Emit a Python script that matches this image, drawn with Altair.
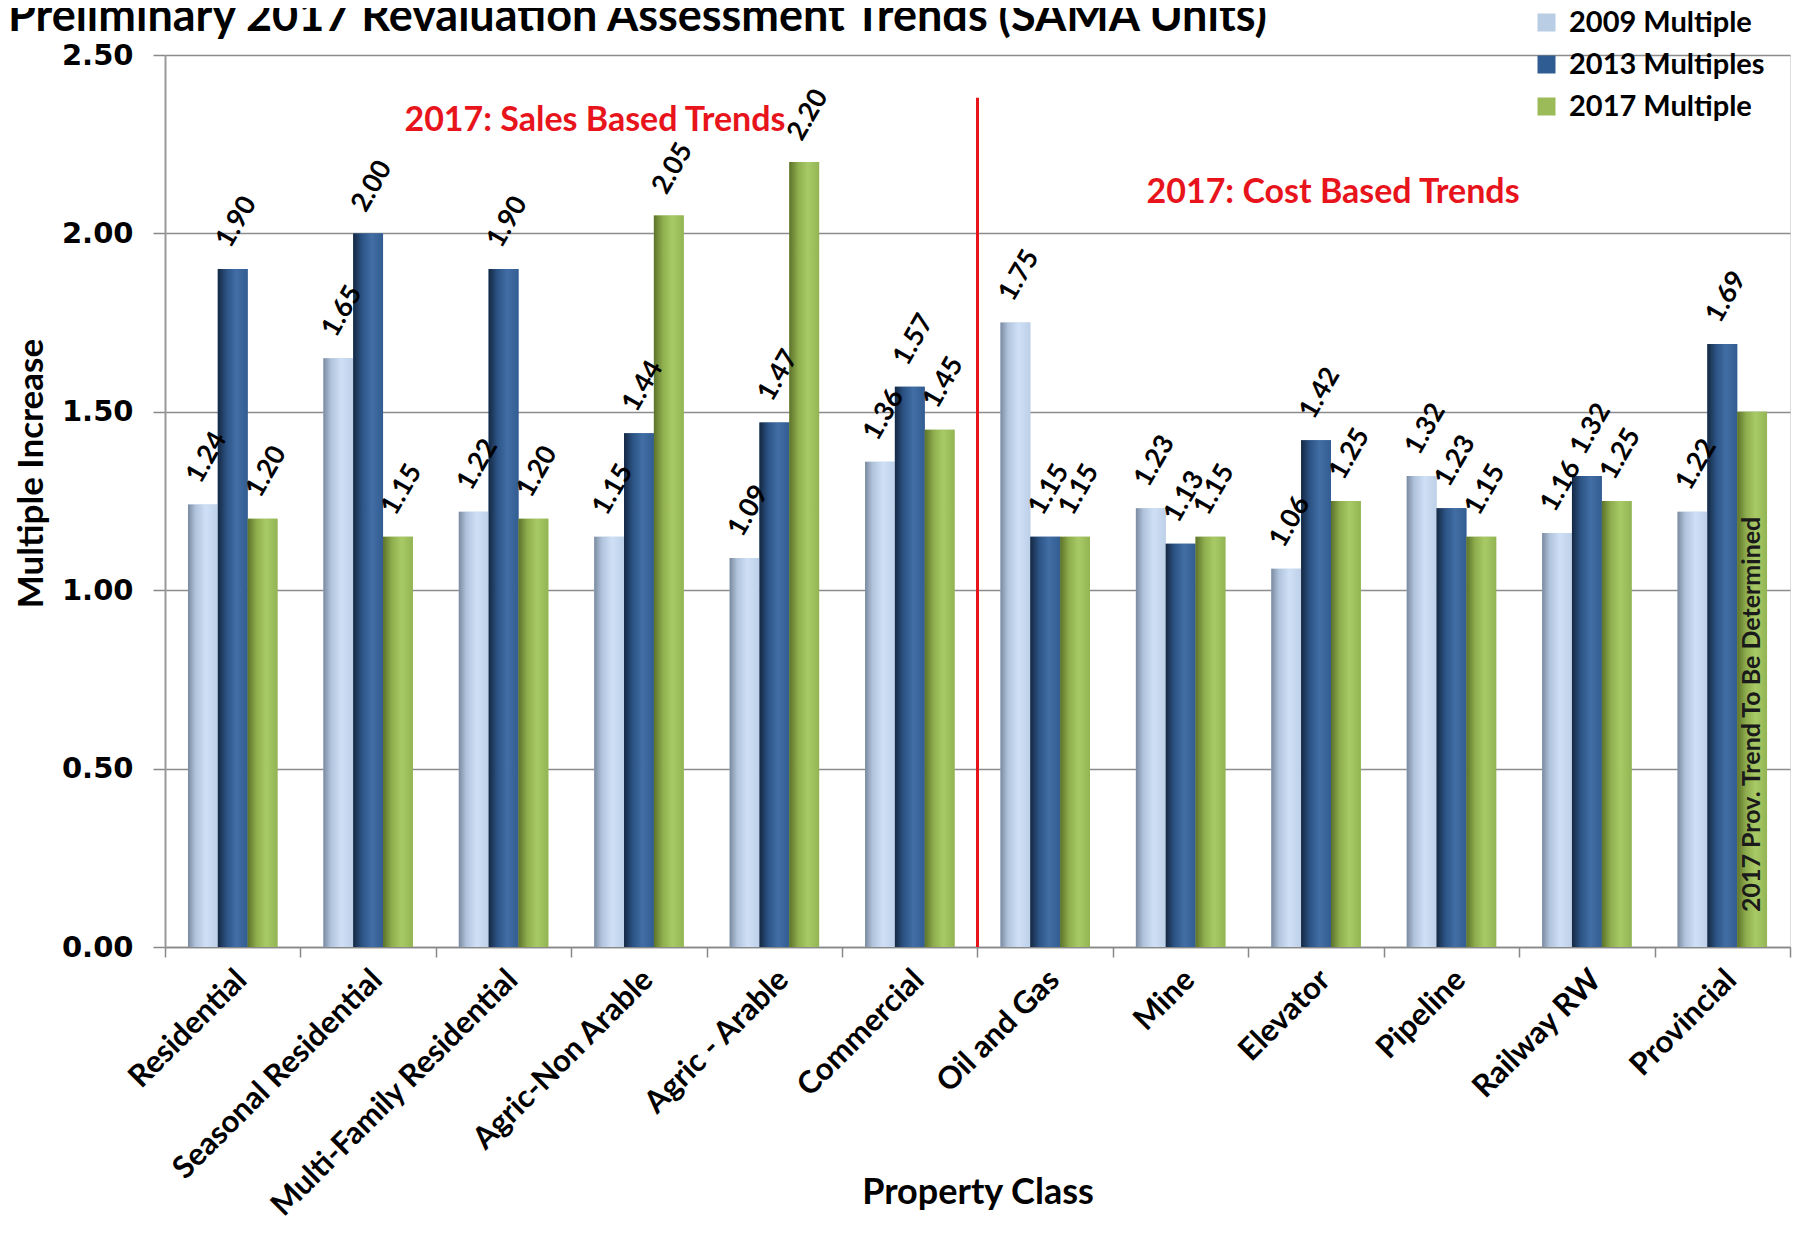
import altair as alt
import pandas as pd

categories = ["Residential", "Seasonal Residential", "Multi-Family Residential",
              "Agric-Non Arable", "Agric - Arable", "Commercial", "Oil and Gas",
              "Mine", "Elevator", "Pipeline", "Railway RW", "Provincial"]
series = ["2009 Multiple", "2013 Multiples", "2017 Multiple"]
v2009 = [1.24, 1.65, 1.22, 1.15, 1.09, 1.36, 1.75, 1.23, 1.06, 1.32, 1.16, 1.22]
v2013 = [1.90, 2.00, 1.90, 1.44, 1.47, 1.57, 1.15, 1.13, 1.42, 1.23, 1.32, 1.69]
v2017 = [1.20, 1.15, 1.20, 2.05, 2.20, 1.45, 1.15, 1.15, 1.25, 1.15, 1.25, 1.50]
show2017 = [True] * 11 + [False]
colors = ["#b9cde5", "#2f5d93", "#9bbb59"]
y_ticks = [0, 0.5, 1.0, 1.5, 2.0, 2.5]

prov_note = "2017 Prov. Trend To Be Determined"
sales_note = "2017: Sales Based Trends"
cost_note = "2017: Cost Based Trends"
divider_cat = "Oil and Gas"
divider_top = 2.38

rows = []
for i, c in enumerate(categories):
    for s, vals in zip(series, [v2009, v2013, v2017]):
        lab = f"{vals[i]:.2f}"
        if s == "2017 Multiple" and not show2017[i]:
            lab = ""
        rows.append(dict(category=c, series=s, value=vals[i], label=lab))
df = pd.DataFrame(rows)

grad_stops = {
    "2009 Multiple": [("#7a8a9f", 0), ("#b0c3dc", 0.25), ("#cfe0f6", 0.6), ("#bdd0e8", 1)],
    "2013 Multiples": [("#152842", 0), ("#2c5486", 0.3), ("#416ea5", 0.62), ("#335d92", 1)],
    "2017 Multiple": [("#5c722a", 0), ("#8fae4e", 0.3), ("#a8ca66", 0.62), ("#93b453", 1)],
}

LATO = "Lato"

x_axis = alt.Axis(labelAngle=-45, labelAlign="right", labelBaseline="middle",
                  labelFont=LATO, labelFontWeight="bold", labelFontSize=31,
                  labelColor="#000000", labelPadding=18, labelOffset=9, labelLimit=0,
                  tickBand="extent", tickSize=10, tickColor="#888888", tickWidth=1.5,
                  domainColor="#888888", domainWidth=1.5, grid=False,
                  titleFont=LATO, titleFontWeight="bold", titleFontSize=36,
                  titleColor="#000000", titleY=245, titleBaseline="middle")
y_axis = alt.Axis(values=y_ticks, format=".2f",
                  labelFont="DejaVu Sans", labelFontWeight="bold", labelFontSize=29,
                  labelColor="#000000", labelPadding=20,
                  tickSize=12, tickColor="#888888", tickWidth=1.5,
                  domainColor="#999999", domainWidth=2,
                  grid=True, gridColor="#8c8c8c", gridWidth=1.5,
                  titleFont=LATO, titleFontWeight="bold", titleFontSize=35,
                  titleColor="#000000", titleX=-134, titleY=418, titleBaseline="middle")

x_enc = alt.X("category:N", sort=categories, title="Property Class",
              scale=alt.Scale(domain=categories, paddingInner=0, paddingOuter=0),
              axis=x_axis)
xo_enc = alt.XOffset("series:N", sort=series,
                     scale=alt.Scale(domain=series, paddingInner=0, paddingOuter=0.77))
y_enc = alt.Y("value:Q", title="Multiple Increase",
              scale=alt.Scale(domain=[0, 2.5], nice=False, zero=True), axis=y_axis)

base = alt.Chart(df)

bars = base.mark_bar().encode(
    x=x_enc, xOffset=xo_enc, y=y_enc,
    color=alt.Color("series:N", sort=series,
                    scale=alt.Scale(domain=series, range=colors),
                    legend=alt.Legend(orient="none", legendX=1367, legendY=-47,
                                      title=None, symbolType="square", symbolSize=324,
                                      symbolStrokeWidth=0, labelFont=LATO,
                                      labelFontWeight="bold", labelFontSize=29,
                                      labelColor="#000000", rowPadding=12,
                                      labelOffset=8, padding=0, labelLimit=0)),
)

grad_layers = []
for s in series:
    g = alt.Gradient(gradient="linear", x1=0, x2=1, y1=0, y2=0,
                     stops=[alt.GradientStop(color=c, offset=o) for c, o in grad_stops[s]])
    grad_layers.append(
        base.transform_filter(alt.datum.series == s)
        .mark_bar(color=g)
        .encode(x=x_enc, xOffset=xo_enc, y=y_enc)
    )

labels = base.mark_text(angle=300, align="left", baseline="middle", dx=16, dy=-20,
                        font=LATO, fontWeight="bold", fontSize=27, color="#000000").encode(
    x=x_enc, xOffset=xo_enc, y=y_enc, text="label:N")

prov_df = pd.DataFrame([dict(category="Provincial", series="2017 Multiple", value=0.0, label=prov_note)])
prov_text = alt.Chart(prov_df).mark_text(angle=270, align="left", baseline="middle", dx=35,
                                         font=LATO, fontWeight="bold", fontSize=25,
                                         color="#1a1a1a").encode(
    x=x_enc, xOffset=xo_enc, y=y_enc, text="label:N")

rule_df = pd.DataFrame([dict(category=divider_cat, value=divider_top, value0=0.0)])
rule = alt.Chart(rule_df).mark_rule(color="#e8141c", strokeWidth=3).encode(
    x=alt.X("category:N", sort=categories, title="Property Class", bandPosition=0,
            scale=alt.Scale(domain=categories, paddingInner=0, paddingOuter=0), axis=x_axis),
    y=y_enc, y2="value0:Q")

note_df = pd.DataFrame([dict(category="Agric-Non Arable", value=2.315, label=sales_note)])
note_df2 = pd.DataFrame([dict(category="Elevator", value=2.113, label=cost_note)])
sales = alt.Chart(note_df).mark_text(align="center", baseline="middle", dx=-44,
                                     font=LATO, fontWeight="bold", fontSize=34,
                                     color="#e8141c").encode(x=x_enc, y=y_enc, text="label:N")
cost = alt.Chart(note_df2).mark_text(align="center", baseline="middle", dx=17,
                                     font=LATO, fontWeight="bold", fontSize=34,
                                     color="#e8141c").encode(x=x_enc, y=y_enc, text="label:N")

chart = alt.layer(bars, *grad_layers, labels, prov_text, rule, sales, cost).properties(
    width=1625, height=892,
    padding={"left": 157, "top": 47, "right": 5, "bottom": 281},
    autosize=alt.AutoSizeParams(type="none"),
    title=alt.TitleParams("Preliminary 2017 Revaluation Assessment Trends (SAMA Units)",
                          anchor="start", frame="group", dx=-157, offset=-32,
                          font=LATO, fontWeight="bold", fontSize=45, color="#000000"),
).configure_view(stroke=None).configure(background="#ffffff")

chart.save("out.html", embed_options={"renderer": "svg", "actions": False})
